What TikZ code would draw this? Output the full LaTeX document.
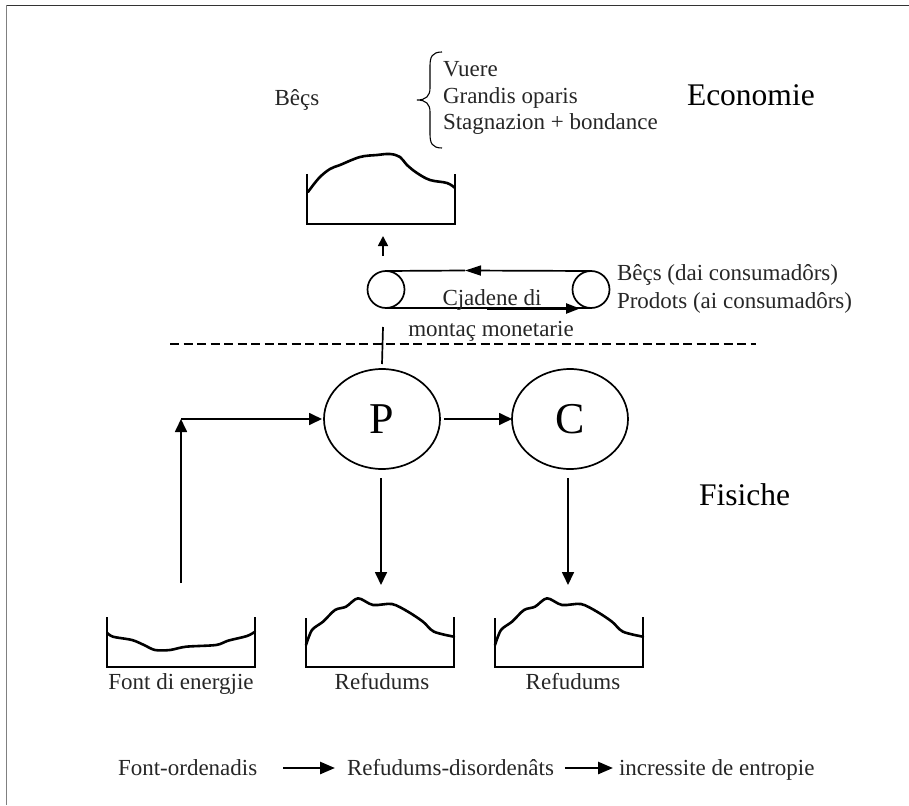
\documentclass[tikz,border=0pt]{standalone}
\usepackage{fontspec}
\setmainfont{Liberation Serif}
\usetikzlibrary{arrows.meta,shapes.geometric}
\begin{document}
\begin{tikzpicture}[x=1pt,y=-1pt,
  every node/.style={inner sep=0pt,outer sep=0pt},
  lbl/.style={font=\fontsize{23}{27}\selectfont,text=black!85},
  big/.style={font=\fontsize{31.5}{36}\selectfont},
  huge/.style={font=\fontsize{44}{50}\selectfont},
  stroke/.style={line width=1.7pt},
  arr/.style={stroke,-{Triangle[length=13pt,width=12pt]}},
  beltarr/.style={stroke,-{Triangle[length=16pt,width=10pt]}},
  legarr/.style={line width=2.6pt,-{Triangle[length=15pt,width=12pt]}},
  wall/.style={line width=1.8pt},
  level/.style={line width=2.6pt,line join=round,line cap=round},
  ring/.style={ellipse,draw,stroke,minimum width=116pt,minimum height=100pt,huge},
  roller/.style={circle,draw,stroke,minimum size=37pt},
  divider/.style={line width=1.4pt,dash pattern=on 9pt off 4.5pt},
]
\useasboundingbox (0,0) rectangle (909,805);

% frame edges
\draw[line width=1.5pt,black!80] (6,5.5) -- (909,5.5);
\draw[line width=1.5pt,black!50] (6.5,5) -- (6.5,805);

% ---------- economy side ----------
\node[lbl,anchor=base] (goods) at (297,106) {Bêçs};
\draw[line width=1.1pt] (442,52) .. controls (432,52) and (430,57) .. (430,66)
  -- (430,88) .. controls (430,96) and (426,100) .. (417,100)
  .. controls (426,100) and (430,104) .. (430,112)
  -- (430,134) .. controls (430,143) and (432,148) .. (442,148);
\node[lbl,anchor=base west] (l1) at (443,77) {Vuere};
\node[lbl,anchor=base west] (l2) at (443,104) {Grandis oparis};
\node[lbl,anchor=base west] (l3) at (443,130) {Stagnazion + bondance};
\node[big,anchor=base west] (eco) at (687,106) {Economie};

% goods tank
\begin{scope}[shift={(307,224)}]
  \draw[wall] (0,-50) -- (0,0) -- (148,0) -- (148,-50);
  \draw[level] plot[smooth,tension=0.6] coordinates {(1,-32) (12,-46) (23,-55) (33,-59)
    (53,-67) (70,-69) (83,-70) (93,-67) (100,-59) (110,-51) (123,-44) (140,-41) (148,-36)};
\end{scope}
\coordinate (upfoot) at (383,256);
\coordinate (uptip) at (383,236);
\draw[stroke,-{Triangle[length=10pt,width=10pt]}] (upfoot) -- (uptip);

% money chain
\node[roller] (r1) at (386,289.5) {};
\node[roller] (r2) at (591,289.5) {};
\coordinate (topmid) at (465,270.5);
\coordinate (botstart) at (487,308.5);
\coordinate (botend) at (580,308.5);
\draw[stroke] (topmid) -- (r1.north);
\draw[beltarr] (r2.north) -- (topmid);
\draw[stroke] (r1.south) -- (r2.south);
\draw[line width=2.4pt,-{Triangle[length=14pt,width=10pt]}] (botstart) -- (botend);
\node[lbl,anchor=base] (chain1) at (492,305) {Cjadene di};
\node[lbl,anchor=base] (chain2) at (491,336) {montaç monetarie};
\node[lbl,anchor=base west] (back) at (617,280) {Bêçs (dai consumadôrs)};
\node[lbl,anchor=base west] (prod) at (617,308) {Prodots (ai consumadôrs)};

% boundary between economy and physics
\coordinate (dl) at (170,344);
\coordinate (dr) at (756,344);
\draw[divider] (dl) -- (dr);

% ---------- physical side ----------
\node[ring] (P) at (382,419) {P};
\node[ring] (C) at (570,419) {C};
\node[big,anchor=base west] (phys) at (699,505) {Fisiche};

\coordinate (stem) at (383,327);
\draw[stroke] (stem) -- ([yshift=5pt]P.north);

\draw[arr] ([xshift=4pt]P.east) -- (C.west);

\coordinate (src) at (181,583);
\coordinate (corner) at (181,419);
\draw[arr] (src) -- (corner);
\draw[arr] (corner) -- ([xshift=-2pt]P.west);

\coordinate (wasteP) at (381,585);
\coordinate (wasteC) at (568,585);
\draw[arr] ([yshift=-9pt]P.south -| wasteP) -- (wasteP);
\draw[arr] ([yshift=-9pt]C.south -| wasteC) -- (wasteC);

% energy source tank
\begin{scope}[shift={(107,667)}]
  \draw[wall] (0,-50) -- (0,0) -- (148,0) -- (148,-50);
  \draw[level] plot[smooth,tension=0.5] coordinates {(0,-34.3) (6,-30.3) (25,-27) (37,-22)
    (48,-17) (63,-17) (79,-20.3) (109,-22) (121,-26.3) (140,-31) (148,-35.3)};
\end{scope}
\node[lbl,anchor=base] (srclbl) at (181,689) {Font di energjie};

% waste tanks
\foreach \x/\n in {306/wa,495/wb}{
  \begin{scope}[shift={(\x,667)}]
    \draw[wall] (0,-49) -- (0,0) -- (148,0) -- (148,-50);
    \draw[level] plot[smooth,tension=0.5] coordinates {(0,-22) (6,-37) (17,-45.3) (29,-57)
      (40,-60.3) (52,-68.7) (67,-62) (86,-63) (102,-55.3) (117,-45.3) (128,-35.3) (148,-30.3)};
  \end{scope}
}
\node[lbl,anchor=base] (wlA) at (382,689) {Refudums};
\node[lbl,anchor=base] (wlB) at (573,689) {Refudums};

% legend line
\node[lbl,anchor=base west] (g1) at (118,775) {Font-ordenadis};
\node[lbl,anchor=base west] (g2) at (347,775) {Refudums-disordenâts};
\node[lbl,anchor=base west] (g3) at (619,775) {incressite de entropie};
\draw[legarr] ([xshift=26pt,yshift=7pt]g1.base east) -- ([xshift=-12pt,yshift=7pt]g2.base west);
\draw[legarr] ([xshift=11pt,yshift=7pt]g2.base east) -- ([xshift=-6pt,yshift=7pt]g3.base west);
\end{tikzpicture}
\end{document}
